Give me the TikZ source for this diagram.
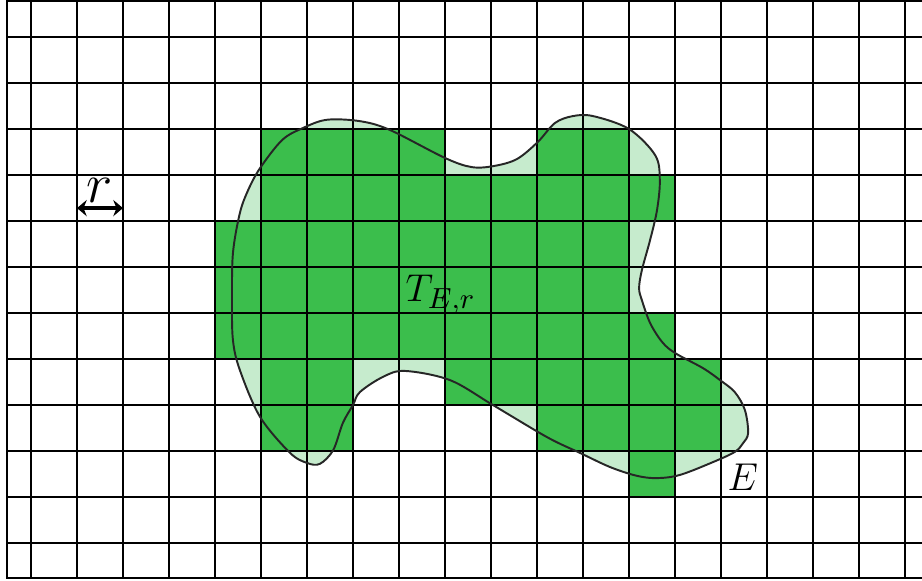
\documentclass[tikz,border=0pt]{standalone}
\usepackage{amsmath,amssymb}
\usepackage{tikz}
\usetikzlibrary{arrows.meta}
\usepackage{xcolor}
\definecolor{cellgreen}{RGB}{59,190,76}
\definecolor{setgreen}{RGB}{198,235,205}

% the set E (one cell = one unit)
\newcommand{\setE}{plot[smooth cycle, tension=0.55] coordinates {
    (4.37,5.28) (4.39,6.30) (4.54,7.17) (4.72,7.67) (4.98,8.15) (5.46,8.76)
    (5.91,9.02) (6.43,9.20) (7.15,9.17) (7.80,8.98) (9.00,8.37) (9.59,8.17)
    (10.09,8.20) (10.57,8.35) (11.02,8.72) (11.39,9.13) (11.78,9.28) (12.22,9.28)
    (13.00,9.00) (13.57,8.43) (13.67,7.89) (13.61,7.24) (13.46,6.59) (13.28,5.93)
    (13.22,5.54) (13.28,5.28) (13.46,4.78) (13.72,4.37) (14.00,4.13) (14.61,3.80)
    (14.98,3.54) (15.30,3.28) (15.52,2.89) (15.59,2.39) (15.48,2.17) (15.30,1.98)
    (14.83,1.76) (14.11,1.48) (13.61,1.41) (13.17,1.46) (12.59,1.65) (11.93,1.96)
    (11.22,2.30) (10.04,3.00) (9.11,3.54) (8.13,3.74) (7.65,3.61) (7.15,3.28)
    (7.00,3.00) (6.78,2.61) (6.57,2.02) (6.28,1.72) (6.00,1.74) (5.63,1.96)
    (4.98,2.74) (4.54,3.76) (4.39,4.41)}}

\begin{document}
\begin{tikzpicture}[x=0.5cm, y=0.5cm,
        gridline/.style={line width=0.7pt},
        outline/.style={line width=0.6pt, black!85}]
            \useasboundingbox (-0.674,-0.826) rectangle (19.37,11.804);

            % --- the set E ---
            \fill[setgreen] \setE;

            % --- cells of T_{E,r}, row by row ---
            \fill[cellgreen] (5,8) rectangle (9,9);
            \fill[cellgreen] (11,8) rectangle (13,9);
            \fill[cellgreen] (5,7) rectangle (14,8);
            \fill[cellgreen] (4,6) rectangle (13,7);
            \fill[cellgreen] (4,5) rectangle (13,6);
            \fill[cellgreen] (4,4) rectangle (14,5);
            \fill[cellgreen] (5,3) rectangle (7,4);
            \fill[cellgreen] (9,3) rectangle (15,4);
            \fill[cellgreen] (5,2) rectangle (7,3);
            \fill[cellgreen] (11,2) rectangle (15,3);
            \fill[cellgreen] (13,1) rectangle (14,2);

            % --- grid ---
            \draw[gridline] (19.37,11.78) -- (-0.52,11.78) -- (-0.52,-0.76) -- (19.37,-0.76);
            \foreach \i in {0,...,19}
                \draw[gridline] (\i,-0.76) -- (\i,11.78);
            \foreach \j in {0,...,11}
                \draw[gridline] (-0.52,\j) -- (19.37,\j);

            % --- boundary of E ---
            \draw[outline] \setE;

            % --- labels ---
            \node[anchor=base west, inner sep=0] (tlabel) at (8.13,5.24) {\fontsize{13}{15}\selectfont $T_{E,r}$};
            \node[anchor=base west, inner sep=0] (elabel) at (15.13,1.13) {\fontsize{13}{15}\selectfont $E$};

            % --- side length r ---
            \coordinate (ra) at (1,7.28);
            \coordinate (rb) at (2,7.28);
            \draw[{Stealth[length=3pt,width=5pt]}-{Stealth[length=3pt,width=5pt]}, line width=1.1pt] (ra) -- (rb);
            \node[anchor=base, inner sep=0] (rlabel) at (1.5,7.41) {\fontsize{17}{20}\selectfont $r$};
        \end{tikzpicture}
\end{document}
